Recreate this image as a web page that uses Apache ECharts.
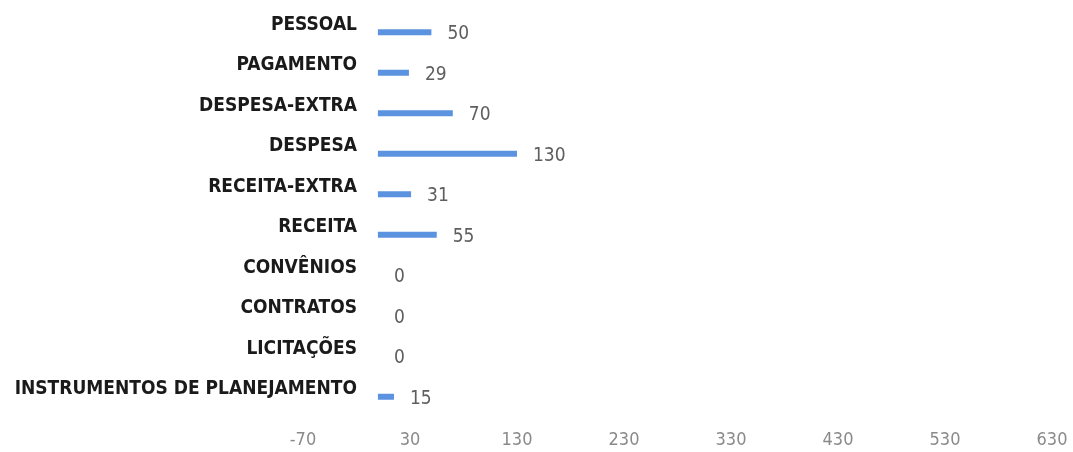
<!DOCTYPE html>
<html>
<head>
<meta charset="utf-8">
<script src="https://cdn.jsdelivr.net/npm/echarts@6/dist/echarts.min.js"></script>
<style>
html,body{margin:0;padding:0;background:#fff;}
#chart{width:1073px;height:452px;}
</style>
</head>
<body>
<div id="chart"></div>
<script>
const categories = ["PESSOAL","PAGAMENTO","DESPESA-EXTRA","DESPESA","RECEITA-EXTRA","RECEITA","CONVÊNIOS","CONTRATOS","LICITAÇÕES","INSTRUMENTOS DE PLANEJAMENTO"];
const values = [50,29,70,130,31,55,0,0,0,15];
const axisMin = -70, axisMax = 630, axisStep = 100;

const narrow = '"Liberation Sans Narrow","DejaVu Sans Condensed",sans-serif';
const chart = echarts.init(document.getElementById('chart'));
chart.setOption({
  animation:false,
  backgroundColor:'#ffffff',
  grid:{left:303,right:21,top:12,bottom:35,containLabel:false},
  xAxis:{
    type:'value', min:axisMin, max:axisMax, interval:axisStep,
    axisLine:{show:false}, axisTick:{show:false}, splitLine:{show:false},
    axisLabel:{color:'#8a8a8a', fontSize:18, margin:14, fontFamily:narrow}
  },
  yAxis:{
    type:'category', data:categories, inverse:true,
    axisLine:{show:false}, axisTick:{show:false},
    axisLabel:{color:'#1a1a1a', fontWeight:'bold', fontSize:19, margin:-54,
      verticalAlign:'bottom', lineHeight:15,
      fontFamily:narrow}
  },
  series:[{
    type:'bar', data:values, barWidth:6,
    itemStyle:{color:'#5b93e0'},
    label:{show:true, position:'right', distance:16, offset:[0,2], color:'#5e5e5e', fontSize:19,
      fontFamily:narrow}
  }]
});
</script>
</body>
</html>
